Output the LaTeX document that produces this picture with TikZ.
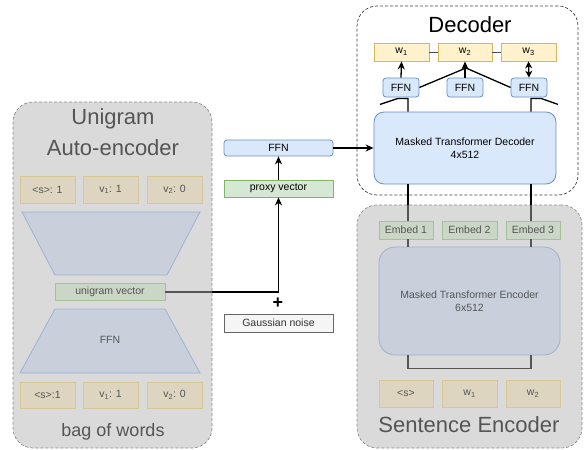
\documentclass[tikz,border=0pt]{standalone}
\usepackage{fontspec}
\setmainfont{Liberation Sans}
\usetikzlibrary{arrows.meta}
\usetikzlibrary{calc}
\definecolor{PanelGrey}{HTML}{DADADA}
\definecolor{PanelLine}{HTML}{8C8C8C}
\definecolor{FadeText}{HTML}{555555}
\definecolor{FadeTan}{HTML}{DDD5C0}
\definecolor{FadeTanLine}{HTML}{D6C896}
\definecolor{FadeBlue}{HTML}{C9D0DC}
\definecolor{FadeBlueLine}{HTML}{A0B2CE}
\definecolor{FadeGreen}{HTML}{CAD6C6}
\definecolor{FadeGreenLine}{HTML}{A6C098}
\definecolor{WordFill}{HTML}{FFF2CC}
\definecolor{WordLine}{HTML}{D6B656}
\definecolor{NetFill}{HTML}{DAE8FC}
\definecolor{NetLine}{HTML}{6C8EBF}
\definecolor{VecFill}{HTML}{D5E8D4}
\definecolor{VecLine}{HTML}{82B366}
\definecolor{NoiseFill}{HTML}{F5F5F5}
\definecolor{NoiseLine}{HTML}{666666}
\tikzset{
  panel/.style={draw=PanelLine, dash pattern=on 3pt off 2pt, rounded corners=20pt, line width=0.7pt},
  txt/.style={font=\fontsize{10.5}{12.5}\selectfont, inner sep=0pt, align=center},
  heading/.style={font=\fontsize{22}{31}\selectfont, inner sep=0pt, align=center},
  bowbox/.style={txt, draw=FadeTanLine, fill=FadeTan, text=FadeText, line width=0.8pt, minimum width=55pt, minimum height=27pt},
  trap/.style={draw=FadeBlueLine, fill=FadeBlue, line width=0.8pt},
  fadevec/.style={txt, draw=FadeGreenLine, fill=FadeGreen, text=FadeText, line width=0.8pt, minimum height=18pt},
  wordbox/.style={txt, draw=WordLine, fill=WordFill, line width=0.8pt, minimum width=55pt, minimum height=18pt},
  netbox/.style={txt, draw=NetLine, fill=NetFill, line width=0.8pt, rounded corners=3pt, minimum height=18pt},
  vecbox/.style={txt, draw=VecLine, fill=VecFill, line width=0.8pt, minimum width=109pt, minimum height=17pt},
  wire/.style={line width=1.3pt},
  fadewire/.style={line width=1.3pt, draw=FadeText},
  conn/.style={line width=1.3pt, -{Stealth[length=8pt,width=7pt]}},
}
\begin{document}
\begin{tikzpicture}[x=1pt,y=-1pt]
  \useasboundingbox (0,0) rectangle (584,450);
  % Panels
  \node[panel, fill=PanelGrey, minimum width=199pt, minimum height=346pt] (aepanel) at (112.5,275) {};
  \node[panel, draw=black!75, fill=white, minimum width=221pt, minimum height=189pt] (decpanel) at (467.5,100.5) {};
  \node[panel, fill=PanelGrey, minimum width=225pt, minimum height=243pt] (encpanel) at (469.5,326.5) {};
  % Unigram auto-encoder
  \node[heading, text=FadeText] (aetitle) at (113,132.5) {Unigram\\Auto-encoder};
  \node[bowbox] (in1) at (47.5,189.5) {\textless s\textgreater: 1};
  \node[bowbox] (in2) at (110.5,189.5) {v\textsubscript{1}: 1};
  \node[bowbox] (in3) at (174.5,189.5) {v\textsubscript{2}: 0};
  \draw[trap] (22,212) -- (200,212) -- (167,275) -- (55,275) -- cycle;
  \node[fadevec, minimum width=110pt, minimum height=17pt] (uvec) at (110,292) {unigram vector};
  \draw[trap] (55,309) -- (165,309) -- (200,373) -- (20,373) -- cycle;
  \node[txt, text=FadeText] (ffnlow) at (110,340) {FFN};
  \node[bowbox, minimum height=26pt] (out1) at (47.5,395) {\textless s\textgreater:1};
  \node[bowbox, minimum height=26pt] (out2) at (110.5,395) {v\textsubscript{1}: 1};
  \node[bowbox, minimum height=26pt] (out3) at (174.5,395) {v\textsubscript{2}: 0};
  \node[font=\fontsize{18}{20}\selectfont, text=FadeText, inner sep=0pt] (bow) at (113,432) {bag of words};
  % Proxy path
  \node[netbox, minimum width=109pt, minimum height=16pt] (ffnmid) at (278.5,148) {FFN};
  \node[vecbox] (proxy) at (278.5,188.5) {proxy vector};
  \node[txt, draw=NoiseLine, fill=NoiseFill, text=black!80, line width=0.8pt, minimum width=109pt, minimum height=18pt] (noise) at (278.5,323) {Gaussian noise};
  \node[font=\fontsize{18}{18}\selectfont\bfseries, inner sep=0pt] (plus) at (278,303) {+};
  \draw[fadewire] (uvec.east) -- (uvec.east -| aepanel.east);
  \draw[conn] (uvec.east -| aepanel.east) -| (proxy.south);
  \draw[conn] (proxy.north) -- (ffnmid.south);
  % Decoder
  \node[heading] (dectitle) at (470,25) {Decoder};
  \node[wordbox] (w1) at (401.5,52) {w\textsubscript{1}};
  \node[wordbox, minimum width=54pt] (w2) at (465,52) {w\textsubscript{2}};
  \node[wordbox] (w3) at (528.5,52) {w\textsubscript{3}};
  \node[netbox, minimum width=36pt, minimum height=19pt] (f1) at (401,87.5) {FFN};
  \node[netbox, minimum width=36pt, minimum height=19pt] (f2) at (465,87.5) {FFN};
  \node[netbox, minimum width=36pt, minimum height=19pt] (f3) at (529,87.5) {FFN};
  \node[txt, draw=NetLine, fill=NetFill, line width=0.8pt, rounded corners=10pt, minimum width=182pt, minimum height=72pt] (dec) at (465,148) {Masked Transformer Decoder\\4x512};
  \draw[conn] (ffnmid.east) -- (dec.west);
  \draw[line width=0.8pt, draw=black!70] (w1.east) -- (w2.west);
  \draw[line width=0.8pt, draw=black!70] (w2.east) -- (w3.west);
  \coordinate (hub) at (466,68);
  \coordinate (c1) at (408,0);
  \coordinate (c3) at (531,0);
  \draw[conn] (f1.north) -- (w1.south);
  \draw[wire] (f1.east) -- (hub);
  \draw[wire] (f3.west) -- (hub);
  \draw[conn] (f2.north) -- (w2.south);
  \draw[line width=1.3pt, {Stealth[length=7pt,width=7pt]}-{Stealth[length=7pt,width=7pt]}] (f3.north) -- (w3.south);
  \draw[wire] (dec.north -| c1) -- ($(c1 |- f1.south)+(0,1)$) -- ++(-10,0) -- ++(-18,6);
  \draw[wire] (dec.north -| c3) -- ($(c3 |- f3.south)+(0,1)$) -- ++(10,0) -- ++(17,6);
  % Sentence encoder
  \node[fadevec, minimum width=54pt] (e1) at (406,230) {Embed 1};
  \node[fadevec, minimum width=55pt] (e2) at (469.5,230) {Embed 2};
  \node[fadevec, minimum width=54pt] (e3) at (533,230) {Embed 3};
  \node[txt, draw=FadeBlueLine, fill=FadeBlue, text=FadeText, line width=0.8pt, rounded corners=16pt, minimum width=181pt, minimum height=108pt] (enc) at (469.5,301) {Masked Transformer Encoder\\6x512};
  \draw[wire] (dec.south -| c1) -- (encpanel.north -| c1);
  \draw[wire] (dec.south -| c3) -- (encpanel.north -| c3);
  \draw[fadewire] (encpanel.north -| c1) -- (e1.north -| c1);
  \draw[fadewire] (encpanel.north -| c3) -- (e3.north -| c3);
  \draw[fadewire] (e1.south -| c1) -- (enc.north -| c1);
  \draw[fadewire] (e3.south -| c3) -- (enc.north -| c3);
  \draw[fadewire] (enc.south -| c1) -- ++(0,13) -| (enc.south -| c3);
  \node[bowbox, minimum width=54pt] (s1) at (406,393.5) {\textless s\textgreater};
  \node[bowbox, minimum width=55pt] (s2) at (469.5,393.5) {w\textsubscript{1}};
  \node[bowbox, minimum width=54pt] (s3) at (533,393.5) {w\textsubscript{2}};
  \node[heading, text=FadeText] (enctitle) at (469,425) {Sentence Encoder};
\end{tikzpicture}
\end{document}
